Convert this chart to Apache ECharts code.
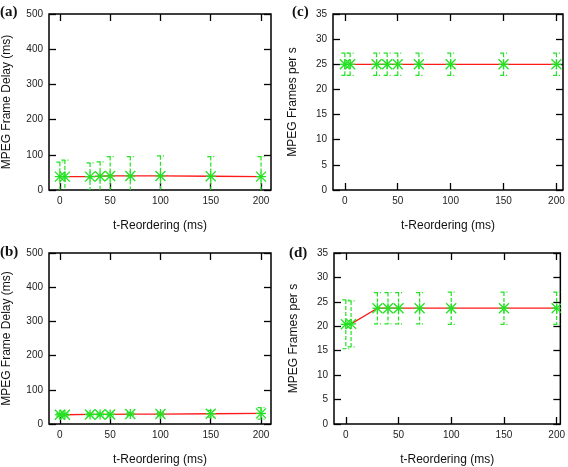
<!DOCTYPE html>
<html><head><meta charset="utf-8">
<script src="https://cdn.jsdelivr.net/npm/echarts@6/dist/echarts.min.js"></script>
<style>html,body{margin:0;padding:0;background:#fff}#c{width:568px;height:467px}</style>
</head><body><div id="c"></div>
<script>
// ---- data ----
const xVals = [0, 5, 30, 40, 50, 70, 100, 150, 200];
const xTicks = [0, 50, 100, 150, 200];
const delayA = [38, 38, 38, 39, 40, 40, 40, 39, 38];
const delayAErr = [41, 47, 39, 41, 55, 55, 57, 56, 57];
const delayB = [27, 27, 28, 28, 28, 29, 29, 30, 31];
const delayBErr = [4, 4, 4, 4, 4, 4, 5, 10, 17];
const fpsC = [25, 25, 25, 25, 25, 25, 25, 25, 25];
const fpsCErr = [2.2, 2.2, 2.2, 2.2, 2.2, 2.2, 2.2, 2.2, 2.2];
const fpsD = [20.4, 20.5, 23.7, 23.7, 23.7, 23.7, 23.7, 23.7, 23.7];
const fpsDErr = [5.0, 4.7, 3.2, 3.2, 3.2, 3.2, 3.3, 3.3, 3.3];
const panelLabels = ['(a)', '(b)', '(c)', '(d)'];
const delayName = 'MPEG Frame Delay (ms)';
const fpsName = 'MPEG Frames per s';
const xName = 't-Reordering (ms)';

const GREEN = '#22e222';
const RED = '#ff1a1a';
const FONT = 'Liberation Sans';

const panels = [
  {grid: {left: 47, top: 14, width: 224, height: 176}, xmin: -10.8, xmax: 209.9, ymax: 500, yint: 100, yname: delayName, ygap: 36, vals: delayA, errs: delayAErr},
  {grid: {left: 47, top: 253, width: 224, height: 176}, xmin: -10.8, xmax: 209.9, ymax: 500, yint: 100, yname: delayName, ygap: 36, vals: delayB, errs: delayBErr},
  {grid: {left: 333, top: 14, width: 230, height: 176}, xmin: -11.2, xmax: 206.2, ymax: 35, yint: 5, yname: fpsName, ygap: 34, vals: fpsC, errs: fpsCErr},
  {grid: {left: 334, top: 253, width: 227, height: 176}, xmin: -11.2, xmax: 203.5, ymax: 35, yint: 5, yname: fpsName, ygap: 34, vals: fpsD, errs: fpsDErr}
];

function errRender(params, api) {
  const x = api.value(0), y = api.value(1), e = api.value(2);
  const p = api.coord([x, y]);
  const hi = api.coord([x, y + e]);
  const lo = api.coord([x, y - e]);
  const cw = 3.5, m = 5;
  const dash = {stroke: GREEN, lineWidth: 1.2, lineDash: [4, 2], fill: null};
  const solid = {stroke: GREEN, lineWidth: 1.3, fill: null};
  return {
    type: 'group',
    children: [
      {type: 'line', shape: {x1: hi[0], y1: hi[1], x2: lo[0], y2: lo[1]}, style: dash},
      {type: 'line', shape: {x1: hi[0] - cw, y1: hi[1], x2: hi[0] + cw, y2: hi[1]}, style: dash},
      {type: 'line', shape: {x1: lo[0] - cw, y1: lo[1], x2: lo[0] + cw, y2: lo[1]}, style: dash},
      {type: 'line', shape: {x1: p[0] - m, y1: p[1] - m, x2: p[0] + m, y2: p[1] + m}, style: solid},
      {type: 'line', shape: {x1: p[0] - m, y1: p[1] + m, x2: p[0] + m, y2: p[1] - m}, style: solid},
      {type: 'line', shape: {x1: p[0] - m, y1: p[1], x2: p[0] + m, y2: p[1]}, style: solid},
      {type: 'line', shape: {x1: p[0], y1: p[1] - m, x2: p[0], y2: p[1] + m}, style: solid}
    ]
  };
}

const grids = [], xAxes = [], yAxes = [], series = [], graphics = [];
panels.forEach((pn, i) => {
  grids.push(Object.assign({show: true, borderColor: '#000', borderWidth: 1.5, backgroundColor: '#fff'}, pn.grid));
  const xBase = {
    gridIndex: i, type: 'value', min: pn.xmin, max: pn.xmax,
    axisLine: {show: false, onZero: false}, splitLine: {show: false}
  };
  xAxes.push(Object.assign({}, xBase, {
    position: 'bottom',
    name: xName, nameLocation: 'middle', nameGap: 30,
    nameTextStyle: {fontFamily: FONT, fontSize: 12, color: '#111'},
    axisTick: {show: true, inside: true, length: 7, customValues: xTicks, lineStyle: {color: '#000', width: 1.3}},
    axisLabel: {show: true, customValues: xTicks, margin: 6, fontFamily: FONT, fontSize: 10, color: '#222'}
  }));
  xAxes.push(Object.assign({}, xBase, {
    position: 'top',
    axisTick: {show: true, inside: true, length: 7, customValues: xTicks, lineStyle: {color: '#000', width: 1.3}},
    axisLabel: {show: false}
  }));
  const yBase = {
    gridIndex: i, type: 'value', min: 0, max: pn.ymax, interval: pn.yint,
    axisLine: {show: false, onZero: false}, splitLine: {show: false}
  };
  yAxes.push(Object.assign({}, yBase, {
    position: 'left',
    name: pn.yname, nameLocation: 'middle', nameGap: pn.ygap,
    nameTextStyle: {fontFamily: FONT, fontSize: 12, color: '#111'},
    axisTick: {show: true, inside: true, length: 7, lineStyle: {color: '#000', width: 1.3}},
    axisLabel: {show: true, margin: 6, fontFamily: FONT, fontSize: 10, color: '#222'}
  }));
  yAxes.push(Object.assign({}, yBase, {
    position: 'right',
    axisTick: {show: true, inside: true, length: 7, lineStyle: {color: '#000', width: 1.3}},
    axisLabel: {show: false}
  }));
  const xi = i * 2, yi = i * 2;
  series.push({
    type: 'line', xAxisIndex: xi, yAxisIndex: yi,
    data: xVals.map((x, k) => [x, pn.vals[k]]),
    showSymbol: false, symbol: 'none',
    lineStyle: {color: RED, width: 1.3}, z: 2, animation: false
  });
  series.push({
    type: 'custom', xAxisIndex: xi, yAxisIndex: yi, clip: true,
    data: xVals.map((x, k) => [x, pn.vals[k], pn.errs[k]]),
    renderItem: errRender, z: 3, animation: false
  });
});

const labelPos = [[0, 5], [0, 245], [292, 5], [289, 246]];
panelLabels.forEach((t, i) => {
  graphics.push({
    type: 'text', left: labelPos[i][0], top: labelPos[i][1],
    style: {text: t, font: 'bold 15px "Liberation Serif"', fill: '#111'}
  });
});

const chart = echarts.init(document.getElementById('c'), null, {renderer: 'canvas'});
chart.setOption({
  animation: false,
  backgroundColor: '#fff',
  grid: grids, xAxis: xAxes, yAxis: yAxes, series: series, graphic: graphics
});
</script></body></html>
